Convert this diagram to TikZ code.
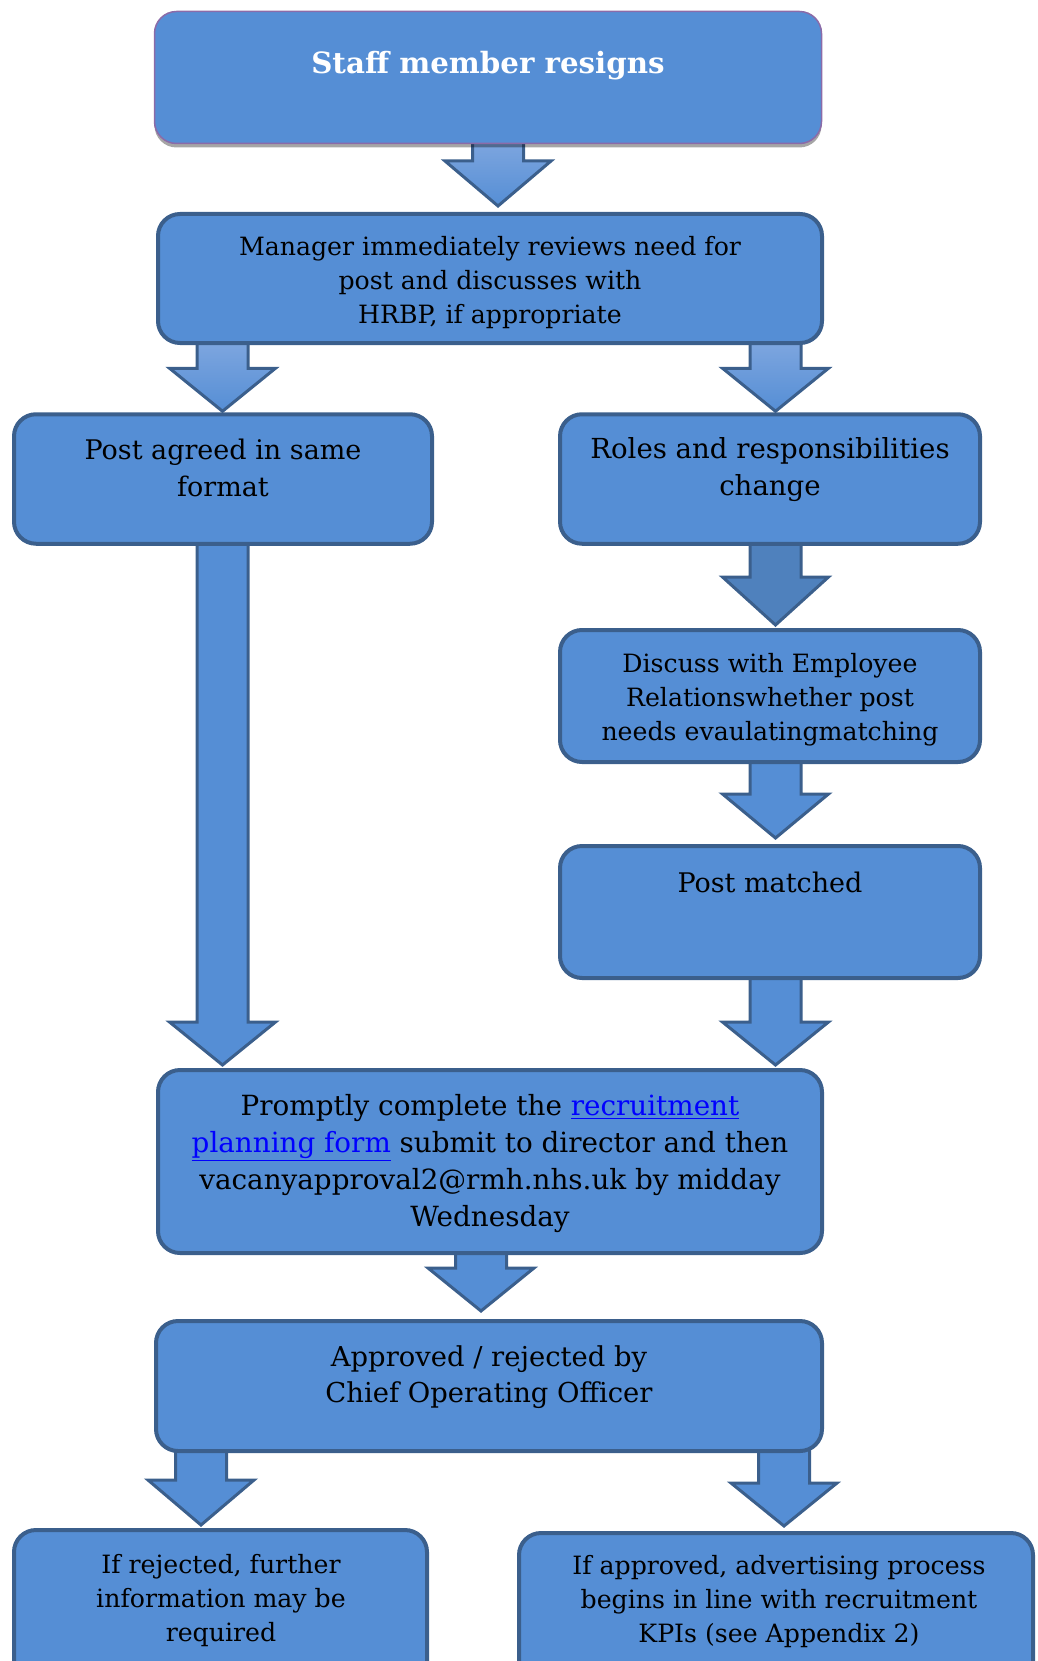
\documentclass[tikz,border=0pt]{standalone}
\usepackage{fontspec}
\setmainfont{DejaVu Serif}
\usetikzlibrary{calc,shadows}
\definecolor{boxfill}{HTML}{558ED5}
\definecolor{boxline}{HTML}{3B5F8C}
\definecolor{arrdark}{HTML}{4F81BD}
\definecolor{arrlight}{HTML}{7EA6DF}
\definecolor{purpleline}{HTML}{8B6BA8}
\definecolor{linkblue}{HTML}{0000FF}
\pgfdeclarelayer{bg}
\pgfsetlayers{bg,main}
\tikzset{
  box/.style={draw=boxline, line width=4pt, fill=boxfill, rounded corners=22pt, inner sep=0pt},
  topbox/.style={draw=purpleline, line width=1.5pt, fill=boxfill, rounded corners=22pt, inner sep=0pt,
    drop shadow={shadow xshift=0pt, shadow yshift=-4pt, fill=black, opacity=0.35}},
  txt/.style={align=center, inner sep=0pt, text=black},
  arrgrad/.style={draw=boxline, line width=3pt, line join=miter, top color=arrlight, bottom color=boxfill},
  arrplain/.style={draw=boxline, line width=3pt, line join=miter, fill=boxfill},
  arrdk/.style={draw=boxline, line width=3pt, line join=miter, fill=arrdark},
}
\newcommand{\smallf}{\fontsize{25.2}{34}\selectfont}
\newcommand{\largef}{\fontsize{27}{37}\selectfont}
\newcommand{\lnk}[1]{\textcolor{linkblue}{\underline{#1}}}
% #1 style, #2 source, #3 target, #4 x centre, #5 gap above target, #6 head height
\newcommand{\blockarr}[6]{%
  \begin{pgfonlayer}{bg}
  \path[#1] let \p1=(#2.south), \p2=(#3.north), \n1={#4} in
    ({\n1-25.5pt}, {\y1+4pt}) -- ({\n1-25.5pt}, {\y2+#5pt+#6pt})
    -- ({\n1-53pt}, {\y2+#5pt+#6pt}) -- ({\n1*1pt}, {\y2+#5pt})
    -- ({\n1+53pt}, {\y2+#5pt+#6pt}) -- ({\n1+25.5pt}, {\y2+#5pt+#6pt})
    -- ({\n1+25.5pt}, {\y1+4pt}) -- cycle;
  \end{pgfonlayer}}
\begin{document}
\begin{tikzpicture}[x=1pt, y=-1pt]
\useasboundingbox (0,0) rectangle (1037,1661);
\clip (0,0) rectangle (1037,1661);
% boxes
\node[topbox, minimum width=667pt, minimum height=132pt] (b1) at (488,77.5) {};
\node[box, minimum width=664pt, minimum height=129pt] (b2) at (490,278.5) {};
\node[box, minimum width=418pt, minimum height=129.5pt] (b3) at (223,479) {};
\node[box, minimum width=420pt, minimum height=129.5pt] (b4) at (770,479) {};
\node[box, minimum width=420pt, minimum height=132pt] (b5) at (770,696) {};
\node[box, minimum width=420pt, minimum height=132pt] (b6) at (770,912) {};
\node[box, minimum width=664pt, minimum height=183pt] (b7) at (490,1161.5) {};
\node[box, minimum width=666pt, minimum height=130pt] (b8) at (489,1386) {};
\node[box, minimum width=413pt, minimum height=158pt] (b9) at (220.5,1609) {};
\node[box, minimum width=514pt, minimum height=155pt] (b10) at (776,1610.5) {};
% texts
\node[txt, text=white, font=\fontsize{29.3}{34}\selectfont\bfseries] (t1) at (488,65.5) {Staff member resigns};
\node[txt, font=\smallf] (t2) at (490,283) {Manager immediately reviews need for\\post and discusses with\\HRBP, if appropriate};
\node[txt, font=\largef] (t3) at (223,467.5) {Post agreed in same\\format};
\node[txt, font=\fontsize{27.6}{37}\selectfont] (t4) at (770,469.5) {Roles and responsibilities\\change};
\node[txt, font=\smallf] (t5) at (770,699.5) {Discuss with Employee\\Relationswhether post\\needs evaulatingmatching};
\node[txt, font=\largef] (t6) at (770,882) {Post matched};
\node[txt, font=\fontsize{27.8}{37}\selectfont] (t7) at (490,1164) {Promptly complete the \lnk{recruitment}\\\lnk{planning form} submit to director and then\\vacanyapproval2@rmh.nhs.uk by midday\\Wednesday};
\node[txt, font=\fontsize{27.4}{36}\selectfont] (t8) at (489,1377) {Approved / rejected by\\Chief Operating Officer};
\node[txt, font=\smallf] (t9) at (221,1601) {If rejected, further\\information may be\\required};
\node[txt, font=\smallf] (t10) at (779,1602) {If approved, advertising process\\begins in line with recruitment\\KPIs (see Appendix 2)};
% arrows
\blockarr{arrgrad}{b1}{b2}{498}{6}{45}
\blockarr{arrgrad}{b2}{b3}{222.5}{1}{43}
\blockarr{arrgrad}{b2}{b4}{775.5}{1}{43}
\blockarr{arrdk}{b4}{b5}{775.5}{3}{48}
\blockarr{arrplain}{b5}{b6}{775.5}{6}{44}
\blockarr{arrplain}{b6}{b7}{775.5}{3}{43}
\blockarr{arrplain}{b3}{b7}{222.5}{3}{43}
\blockarr{arrplain}{b7}{b8}{481}{8}{43}
\blockarr{arrplain}{b8}{b9}{201}{3}{45}
\blockarr{arrplain}{b8}{b10}{784}{5}{43}
\end{tikzpicture}
\end{document}
